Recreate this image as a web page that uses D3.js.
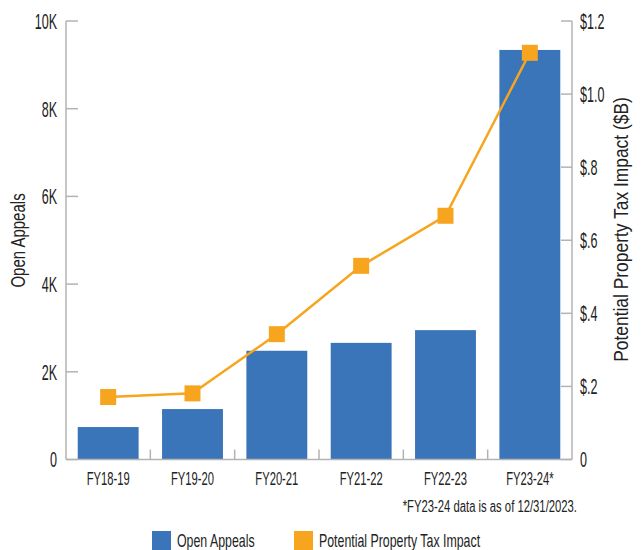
<!DOCTYPE html>
<html>
<head>
<meta charset="utf-8">
<script src="https://cdn.jsdelivr.net/npm/d3@7"></script>
<style>
  body { margin: 0; background: #fff; }
  text { font-family: "Liberation Sans Narrow", "Liberation Sans", sans-serif; fill: #222; }
</style>
</head>
<body>
<div id="chart"></div>
<script>
// data
var years = ["FY18-19", "FY19-20", "FY20-21", "FY21-22", "FY22-23", "FY23-24*"];
var appeals = [740, 1150, 2480, 2660, 2950, 9340];
var taxImpact = [0.171, 0.181, 0.343, 0.530, 0.667, 1.113];
var leftTicks = [0, 2000, 4000, 6000, 8000, 10000];
var rightTicks = [0, 0.2, 0.4, 0.6, 0.8, 1.0, 1.2];

var width = 642, height = 550;
var blue = "#3a74b9", orange = "#f7a51e", gray = "#b3b3b3";
var mLeft = 66, mRight = 572, mTop = 21, mBottom = 459.5;

var svg = d3.select("#chart").append("svg")
  .attr("width", width)
  .attr("height", height);

//narrow the font a bit more, reference uses a condensed face
function squeeze(sel, f){
  sel.each(function(){
    var len = this.getComputedTextLength();
    d3.select(this).attr("textLength", len*f).attr("lengthAdjust", "spacingAndGlyphs");
  });
}

var x = d3.scaleBand().domain(years).range([mLeft, mRight]).paddingInner(0.278).paddingOuter(0.139);
var yL = d3.scaleLinear().domain([0, 10000]).range([mBottom, mTop]);
var yR = d3.scaleLinear().domain([0, 1.2]).range([mBottom, mTop]);

//bars
svg.append("g").selectAll("rect").data(appeals).enter().append("rect")
  .attr("x", function(d, i){ return x(years[i]); })
  .attr("y", function(d){ return yL(d); })
  .attr("width", x.bandwidth())
  .attr("height", function(d){ return yL(0) - yL(d); })
  .style("fill", blue);

//left axis
var lAxis = svg.append("g").attr("transform", "translate(" + mLeft + ",0)");
lAxis.append("line").attr("y1", mTop).attr("y2", mBottom).attr("stroke", gray).attr("stroke-width", 1.5);
lAxis.selectAll("line.t").data(leftTicks).enter().append("line").attr("class", "t")
  .attr("x1", 0).attr("x2", 12)
  .attr("y1", function(d){ return yL(d); }).attr("y2", function(d){ return yL(d); })
  .attr("stroke", gray).attr("stroke-width", 1.5);
lAxis.selectAll("text").data(leftTicks).enter().append("text")
  .attr("x", -9).attr("y", function(d){ return yL(d); })
  .attr("dy", "0.36em").attr("text-anchor", "end")
  .style("font-size", "22px")
  .text(function(d){ return d === 0 ? "0" : (d/1000) + "K"; })
  .call(squeeze, 0.57);

//right axis
var rAxis = svg.append("g").attr("transform", "translate(" + mRight + ",0)");
rAxis.append("line").attr("y1", mTop).attr("y2", mBottom).attr("stroke", gray).attr("stroke-width", 1.5);
rAxis.selectAll("line.t").data(rightTicks).enter().append("line").attr("class", "t")
  .attr("x1", 0).attr("x2", -11)
  .attr("y1", function(d){ return yR(d); }).attr("y2", function(d){ return yR(d); })
  .attr("stroke", gray).attr("stroke-width", 1.5);
rAxis.selectAll("text").data(rightTicks).enter().append("text")
  .attr("x", 8).attr("y", function(d){ return yR(d); })
  .attr("dy", "0.36em")
  .style("font-size", "22px")
  .text(function(d){
    if(d === 0) return "0";
    var s = d.toFixed(1);
    return "$" + (s.charAt(0) === "0" ? s.substring(1) : s);
  })
  .call(squeeze, 0.57);

//x axis
var xAxis = svg.append("g");
xAxis.append("line").attr("x1", mLeft).attr("x2", mRight).attr("y1", mBottom).attr("y2", mBottom)
  .attr("stroke", gray).attr("stroke-width", 1.5);
xAxis.selectAll("line.t").data(years.slice(1)).enter().append("line").attr("class", "t")
  .attr("x1", function(d){ return x(d) - x.step()*x.paddingInner()/2; })
  .attr("x2", function(d){ return x(d) - x.step()*x.paddingInner()/2; })
  .attr("y1", mBottom).attr("y2", mBottom - 10)
  .attr("stroke", gray).attr("stroke-width", 1.5);
xAxis.selectAll("text").data(years).enter().append("text")
  .attr("x", function(d){ return x(d) + x.bandwidth()/2; })
  .attr("y", 485)
  .attr("text-anchor", "middle")
  .style("font-size", "19px")
  .text(function(d){ return d; })
  .call(squeeze, 0.59);

//line + square markers
var line = d3.line()
  .x(function(d, i){ return x(years[i]) + x.bandwidth()/2; })
  .y(function(d){ return yR(d); });
svg.append("path").datum(taxImpact)
  .attr("d", line)
  .attr("fill", "none")
  .attr("stroke", orange)
  .attr("stroke-width", 2.5);
svg.append("g").selectAll("rect").data(taxImpact).enter().append("rect")
  .attr("x", function(d, i){ return x(years[i]) + x.bandwidth()/2 - 8; })
  .attr("y", function(d){ return yR(d) - 8; })
  .attr("width", 16).attr("height", 16)
  .style("fill", orange);

//axis titles
svg.append("text")
  .attr("transform", "translate(25,240.5) rotate(-90)")
  .attr("text-anchor", "middle")
  .style("font-size", "20px")
  .text("Open Appeals")
  .call(squeeze, 0.75);
svg.append("text")
  .attr("transform", "translate(628,229.5) rotate(-90)")
  .attr("text-anchor", "middle")
  .style("font-size", "20px")
  .text("Potential Property Tax Impact ($B)")
  .call(squeeze, 0.87);

//footnote
svg.append("text")
  .attr("x", 577).attr("y", 512)
  .attr("text-anchor", "end")
  .style("font-size", "16px")
  .text("*FY23-24 data is as of 12/31/2023.")
  .call(squeeze, 0.705);

//legend
var legend = [["Open Appeals", blue, 152], ["Potential Property Tax Impact", orange, 294]];
var lg = svg.append("g").selectAll("g").data(legend).enter().append("g");
lg.append("rect")
  .attr("x", function(d){ return d[2]; }).attr("y", 531)
  .attr("width", 19).attr("height", 19)
  .style("fill", function(d){ return d[1]; });
lg.append("text")
  .attr("x", function(d){ return d[2] + 25; }).attr("y", 547)
  .style("font-size", "19px")
  .text(function(d){ return d[0]; })
  .call(squeeze, 0.65);
</script>
</body>
</html>
